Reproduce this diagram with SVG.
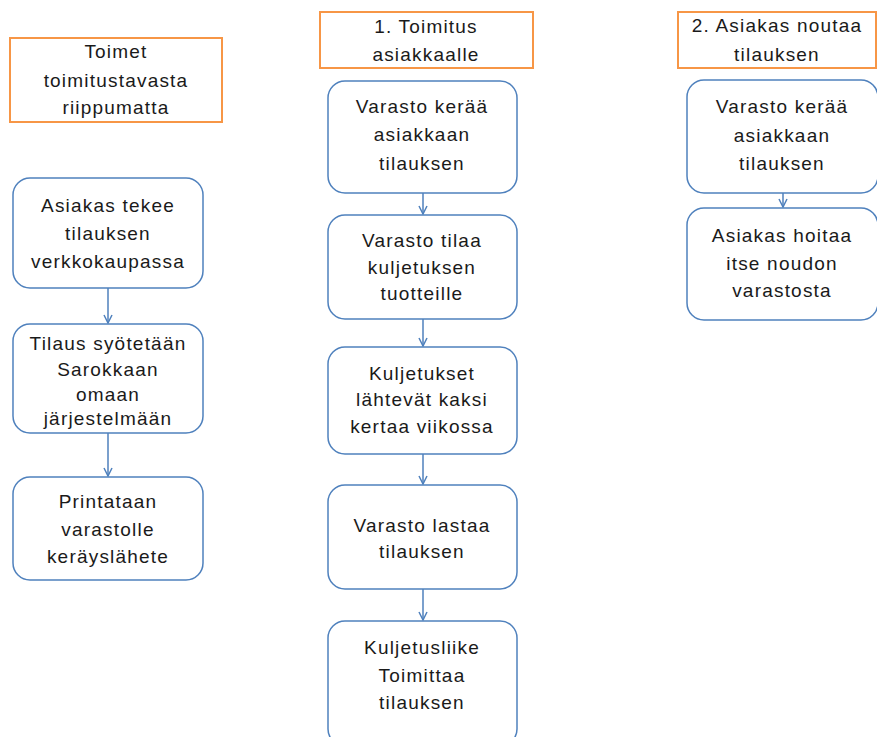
<svg xmlns="http://www.w3.org/2000/svg" width="877" height="737" viewBox="0 0 877 737">
<style>
.hdr{fill:#fff;stroke:#F79646;stroke-width:2}
.nd{fill:#fff;stroke:#4F81BD;stroke-width:1.5}
text{font-family:"Liberation Sans",Arial,sans-serif;font-size:19px;fill:#1a1a1a;text-anchor:middle;letter-spacing:1.2px}
.cn{stroke:#4F81BD;stroke-width:1.5;fill:none}
</style>
<defs>
<marker id="ah" viewBox="0 0 10 10" refX="9" refY="5" markerWidth="10" markerHeight="10" markerUnits="userSpaceOnUse" orient="auto">
<polyline points="1,1 9,5 1,9" fill="none" stroke="#4F81BD" stroke-width="1.5"/>
</marker>
</defs>
<rect width="877" height="737" fill="#fff"/>
<g id="connectors">
<line class="cn" x1="108" y1="288" x2="108" y2="323" marker-end="url(#ah)"/>
<line class="cn" x1="108" y1="433" x2="108" y2="476" marker-end="url(#ah)"/>
<line class="cn" x1="423" y1="193" x2="423" y2="214" marker-end="url(#ah)"/>
<line class="cn" x1="423" y1="319" x2="423" y2="346" marker-end="url(#ah)"/>
<line class="cn" x1="423" y1="454" x2="423" y2="484" marker-end="url(#ah)"/>
<line class="cn" x1="423" y1="589" x2="423" y2="620" marker-end="url(#ah)"/>
<line class="cn" x1="783" y1="193" x2="783" y2="207" marker-end="url(#ah)"/>
</g>
<g id="h1"><rect class="hdr" x="10" y="38" width="212" height="84"/>
<text x="116" y="58">Toimet</text><text x="116" y="87">toimitustavasta</text><text x="116" y="114">riippumatta</text></g>
<g id="h2"><rect class="hdr" x="320" y="12" width="213" height="56"/>
<text x="426" y="33">1. Toimitus</text><text x="426" y="61">asiakkaalle</text></g>
<g id="h3"><rect class="hdr" x="678" y="12" width="198" height="56"/>
<text x="777" y="32">2. Asiakas noutaa</text><text x="777" y="61">tilauksen</text></g>
<g id="l1"><rect class="nd" x="13" y="178" width="190" height="110" rx="17"/>
<text x="108" y="212">Asiakas tekee</text><text x="108" y="240">tilauksen</text><text x="108" y="268">verkkokaupassa</text></g>
<g id="l2"><rect class="nd" x="13" y="324" width="190" height="109" rx="17"/>
<text x="108" y="350">Tilaus syötetään</text><text x="108" y="376">Sarokkaan</text><text x="108" y="401">omaan</text><text x="108" y="425">järjestelmään</text></g>
<g id="l3"><rect class="nd" x="13" y="477" width="190" height="103" rx="17"/>
<text x="108" y="508">Printataan</text><text x="108" y="536">varastolle</text><text x="108" y="563">keräyslähete</text></g>
<g id="m1"><rect class="nd" x="328" y="81" width="189" height="112" rx="17"/>
<text x="422" y="113">Varasto kerää</text><text x="422" y="141">asiakkaan</text><text x="422" y="170">tilauksen</text></g>
<g id="m2"><rect class="nd" x="328" y="215" width="189" height="104" rx="17"/>
<text x="422" y="247">Varasto tilaa</text><text x="422" y="274">kuljetuksen</text><text x="422" y="300">tuotteille</text></g>
<g id="m3"><rect class="nd" x="328" y="347" width="189" height="107" rx="17"/>
<text x="422" y="380">Kuljetukset</text><text x="422" y="406">lähtevät kaksi</text><text x="422" y="433">kertaa viikossa</text></g>
<g id="m4"><rect class="nd" x="328" y="485" width="189" height="104" rx="17"/>
<text x="422" y="532">Varasto lastaa</text><text x="422" y="558">tilauksen</text></g>
<g id="m5"><rect class="nd" x="328" y="621" width="189" height="125" rx="17"/>
<text x="422" y="654">Kuljetusliike</text><text x="422" y="682">Toimittaa</text><text x="422" y="709">tilauksen</text></g>
<g id="r1"><rect class="nd" x="687" y="80" width="191" height="113" rx="17"/>
<text x="782" y="113">Varasto kerää</text><text x="782" y="142">asiakkaan</text><text x="782" y="170">tilauksen</text></g>
<g id="r2"><rect class="nd" x="687" y="208" width="191" height="112" rx="17"/>
<text x="782" y="242">Asiakas hoitaa</text><text x="782" y="270">itse noudon</text><text x="782" y="297">varastosta</text></g>
</svg>
